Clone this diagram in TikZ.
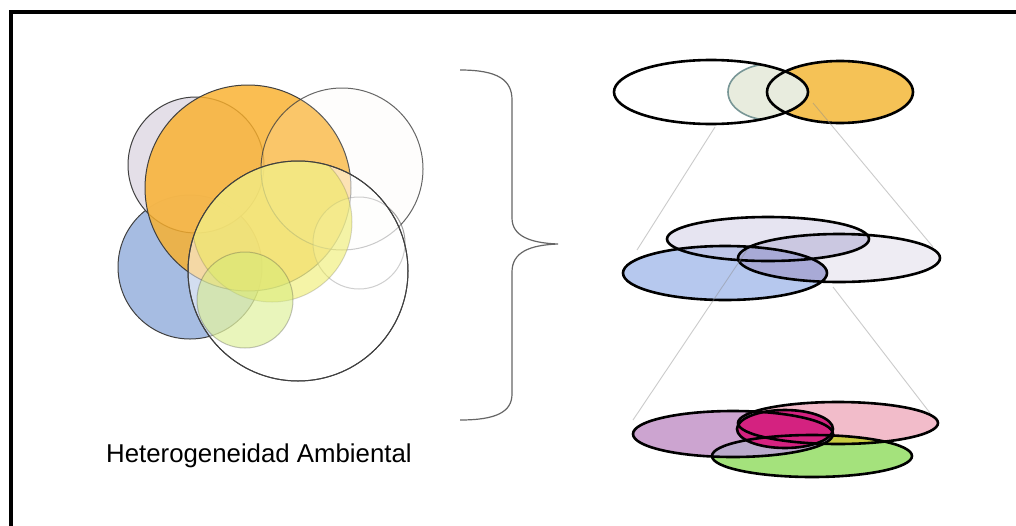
\documentclass[tikz,border=0pt]{standalone}
\usepackage{fontspec}
\setmainfont{Liberation Sans}
% palette
\definecolor{cblue}{RGB}{166,188,226}
\definecolor{clav}{RGB}{226,220,230}
\definecolor{corange}{RGB}{250,176,44}
\definecolor{cpale}{RGB}{250,246,240}
\definecolor{cyellow}{RGB}{236,234,80}
\definecolor{cgreen}{RGB}{212,236,120}
\definecolor{tgold}{RGB}{245,194,86}
\definecolor{tmist}{RGB}{232,236,222}
\definecolor{tteal}{RGB}{120,150,150}
\definecolor{mpale}{RGB}{238,236,243}
\definecolor{mblue}{RGB}{182,200,238}
\definecolor{mlav}{RGB}{200,196,226}
\definecolor{mlavb}{RGB}{196,194,222}
\definecolor{mdeep}{RGB}{168,170,214}
\definecolor{bgreen}{RGB}{164,226,124}
\definecolor{bpink}{RGB}{242,188,202}
\definecolor{bpurple}{RGB}{204,164,208}
\definecolor{bolive}{RGB}{200,204,64}
\definecolor{bgrey}{RGB}{186,170,204}
\definecolor{bmagenta}{RGB}{212,34,128}
\begin{document}
\begin{tikzpicture}[x=1pt,y=-1pt,
  ring/.style={draw=black!75, line width=1pt},
  oval/.style={draw=black, line width=2.6pt},
  guide/.style={draw=black!45, line width=0.9pt, opacity=0.45},
  bracket/.style={draw=black!60, line width=1.2pt}]
\useasboundingbox (0,0) rectangle (1016,525);
\fill[white] (0,0) rectangle (1016,525);

% frame (top and left edges)
\draw[line width=4pt] (11,530) -- (11,12) -- (1020,12);

% ---- overlapping circles ----
\filldraw[ring, fill=cblue] (190,267) circle[radius=72pt];
\filldraw[ring, fill=clav, fill opacity=0.9] (196,165) circle[radius=68pt];
\filldraw[ring, fill=corange, fill opacity=0.82] (248,188) circle[radius=103pt];
\filldraw[ring, draw opacity=0.8, fill=cpale, fill opacity=0.15] (342,169) circle[radius=81pt];
\filldraw[ring, draw opacity=0.5, fill=white, fill opacity=0.3] (359,243) circle[radius=46pt];
\filldraw[ring, fill=white, fill opacity=0.5] (298,271) circle[radius=110pt];
\begin{scope}
  \clip (298,271) circle[radius=110pt];
  \filldraw[ring, draw opacity=0.2, fill=cyellow, fill opacity=0.5] (272,222) circle[radius=80pt];
\end{scope}
\filldraw[ring, draw opacity=0.3, fill=cgreen, fill opacity=0.5] (245,300) circle[radius=48pt];
\draw[ring] (298,271) circle[radius=110pt];

\node[anchor=base west, inner sep=0pt, font=\fontsize{25.8}{30}\selectfont] (label) at (106,462) {Heterogeneidad Ambiental};

% ---- brace ----
\coordinate (bt) at (460,70);
\coordinate (bm) at (558,244);
\coordinate (bb) at (460,420);
\draw[bracket] (bt) .. controls (498,70) and (512,80) .. (512,100) -- (512,218)
  .. controls (512,236) and (530,243) .. (bm)
  .. controls (530,245) and (512,252) .. (512,272) -- (512,394)
  .. controls (512,412) and (496,420) .. (bb);

% ---- top pair ----
\fill[tgold] (840,92) ellipse[x radius=73pt, y radius=31pt];
\fill[white] (711,92) ellipse[x radius=97pt, y radius=32pt];
\begin{scope}
  \clip (711,92) ellipse[x radius=97pt, y radius=32pt];
  \filldraw[fill=tmist, draw=tteal, line width=1.6pt] (770,92) ellipse[x radius=42pt, y radius=28pt];
\end{scope}
\draw[oval] (711,92) ellipse[x radius=97pt, y radius=32pt];
\draw[oval] (840,92) ellipse[x radius=73pt, y radius=31pt];

% ---- middle triple ----
\fill[mpale] (839,258) ellipse[x radius=101pt, y radius=24pt];
\fill[mblue] (725,273) ellipse[x radius=102pt, y radius=27pt];
\fill[mlav, opacity=0.45] (768,239) ellipse[x radius=101pt, y radius=22pt];
\begin{scope}
  \clip (839,258) ellipse[x radius=101pt, y radius=24pt];
  \fill[mlavb, opacity=0.7] (768,239) ellipse[x radius=101pt, y radius=22pt];
  \fill[mdeep] (725,273) ellipse[x radius=102pt, y radius=27pt];
\end{scope}
\draw[oval] (768,239) ellipse[x radius=101pt, y radius=22pt];
\draw[oval] (839,258) ellipse[x radius=101pt, y radius=24pt];
\draw[oval] (725,273) ellipse[x radius=102pt, y radius=27pt];

% ---- bottom quadruple ----
\fill[bgreen] (812,456) ellipse[x radius=100pt, y radius=21pt];
\fill[bpink] (838,423) ellipse[x radius=100pt, y radius=21pt];
\fill[bpurple] (733,434) ellipse[x radius=100pt, y radius=23pt];
\begin{scope}
  \clip (812,456) ellipse[x radius=100pt, y radius=21pt];
  \fill[bolive] (838,423) ellipse[x radius=100pt, y radius=21pt];
  \fill[bgrey] (733,434) ellipse[x radius=100pt, y radius=23pt];
\end{scope}
\fill[bmagenta] (785,429) ellipse[x radius=48pt, y radius=19pt];
\draw[oval] (733,434) ellipse[x radius=100pt, y radius=23pt];
\draw[oval] (838,423) ellipse[x radius=100pt, y radius=21pt];
\draw[oval] (812,456) ellipse[x radius=100pt, y radius=21pt];
\draw[oval] (785,429) ellipse[x radius=48pt, y radius=19pt];

% ---- guide lines between the levels ----
\coordinate (g1a) at (715,127);
\coordinate (g1b) at (637,250);
\coordinate (g2a) at (813,103);
\coordinate (g2b) at (933,247);
\coordinate (g3a) at (747,250);
\coordinate (g3b) at (633,420);
\coordinate (g4a) at (833,287);
\coordinate (g4b) at (930,413);
\draw[guide] (g1a) -- (g1b);
\draw[guide] (g2a) -- (g2b);
\draw[guide] (g3a) -- (g3b);
\draw[guide] (g4a) -- (g4b);
\end{tikzpicture}
\end{document}
